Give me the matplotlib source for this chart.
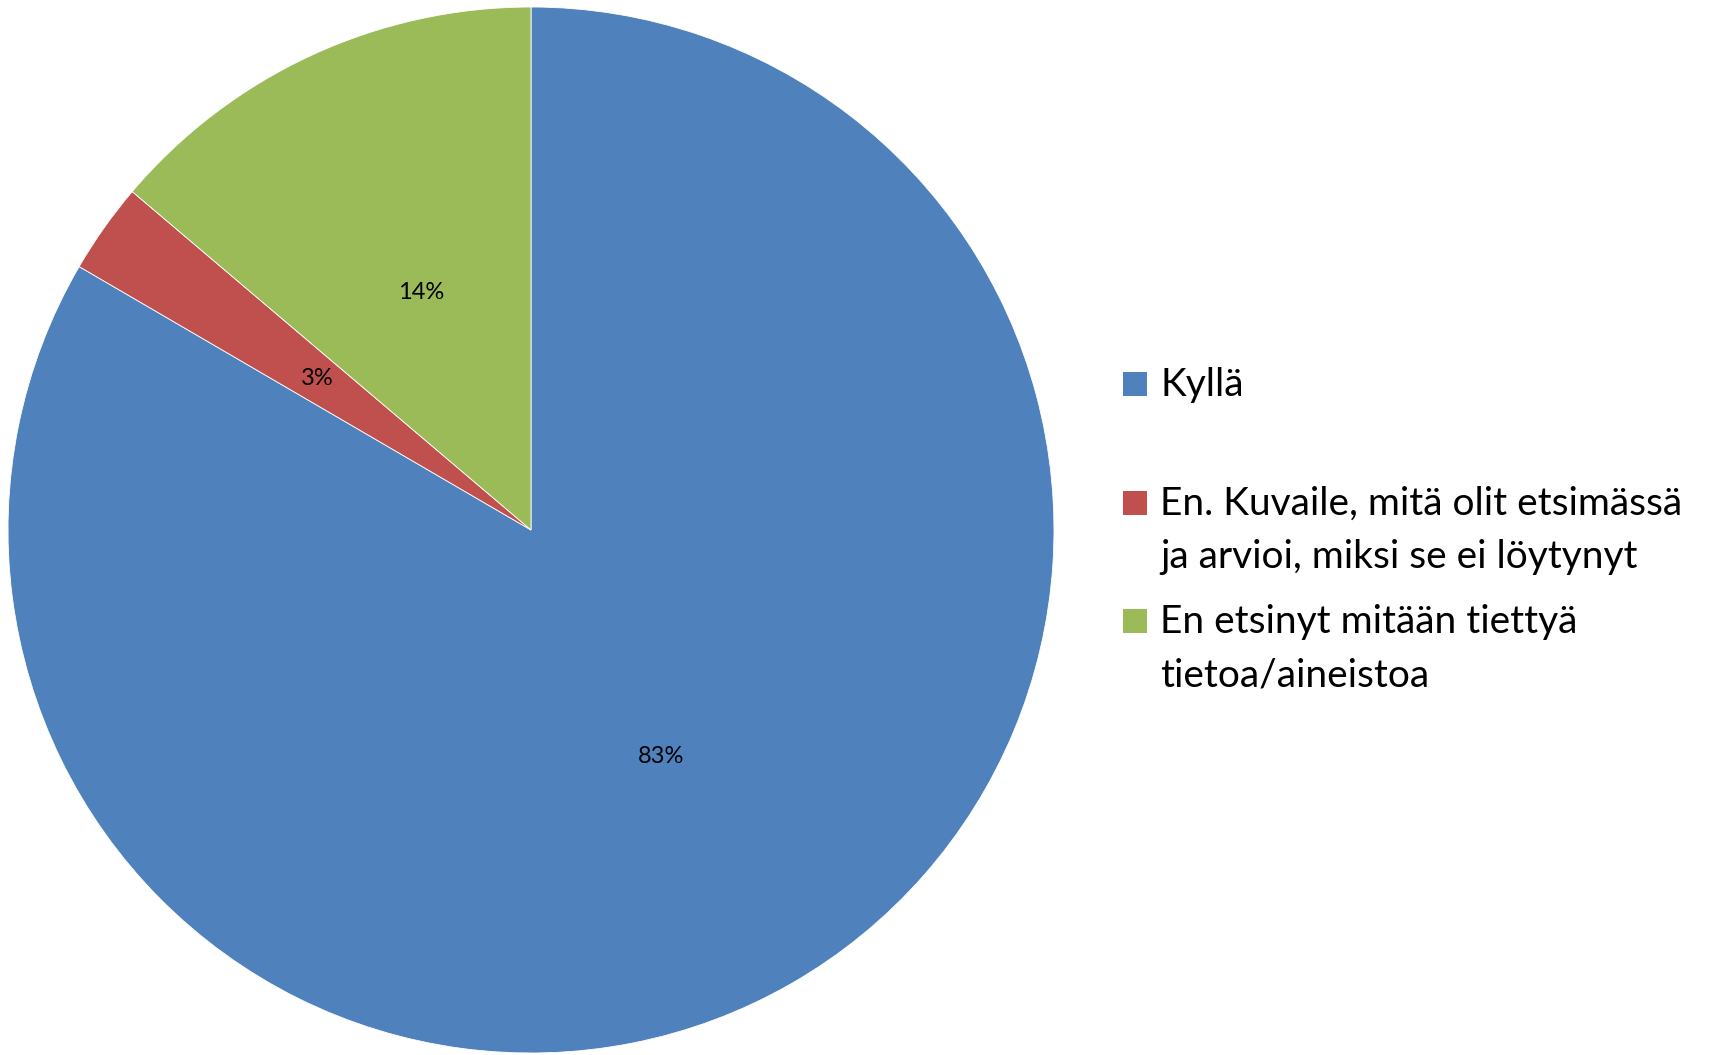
import matplotlib
matplotlib.use("Agg")
import matplotlib.pyplot as plt
from matplotlib.patches import Rectangle

plt.rcParams['font.family'] = ['Lato', 'DejaVu Sans']

labels = ["Kyllä",
          "En. Kuvaile, mitä olit etsimässä\nja arvioi, miksi se ei löytynyt",
          "En etsinyt mitään tiettyä\ntietoa/aineistoa"]
values = [83.4, 2.8, 13.8]
colors = ["#4F81BD", "#C0504D", "#9BBB59"]

W, H = 1709, 1055
fig = plt.figure(figsize=(W / 100, H / 100), dpi=100)

cx, cy, r = 531, 530, 523
ax = fig.add_axes([(cx - r) / W, (H - cy - r) / H, 2 * r / W, 2 * r / H])
ax.pie(values, colors=colors, startangle=90, counterclock=False,
       autopct=lambda p: f"{p:.0f}%", pctdistance=0.5, radius=1,
       wedgeprops=dict(edgecolor="white", linewidth=0.6),
       textprops=dict(fontsize=17, color="black"))
ax.set_xlim(-1, 1)
ax.set_ylim(-1, 1)
ax.set_aspect("equal")
ax.axis("off")

# legend drawn by hand: square sits on the first line's baseline
first_baseline = [396, 515, 633]
line_gap = 53
sq = 24
for lab, col, y0 in zip(labels, colors, first_baseline):
    fig.patches.append(Rectangle((1123 / W, (H - y0) / H), sq / W, sq / H,
                                 transform=fig.transFigure, facecolor=col,
                                 edgecolor="none"))
    for i, line in enumerate(lab.split("\n")):
        fig.text(1160 / W, (H - y0 - i * line_gap) / H, line, fontsize=28,
                 va="baseline", ha="left")

fig.savefig("out.png", dpi=100)
